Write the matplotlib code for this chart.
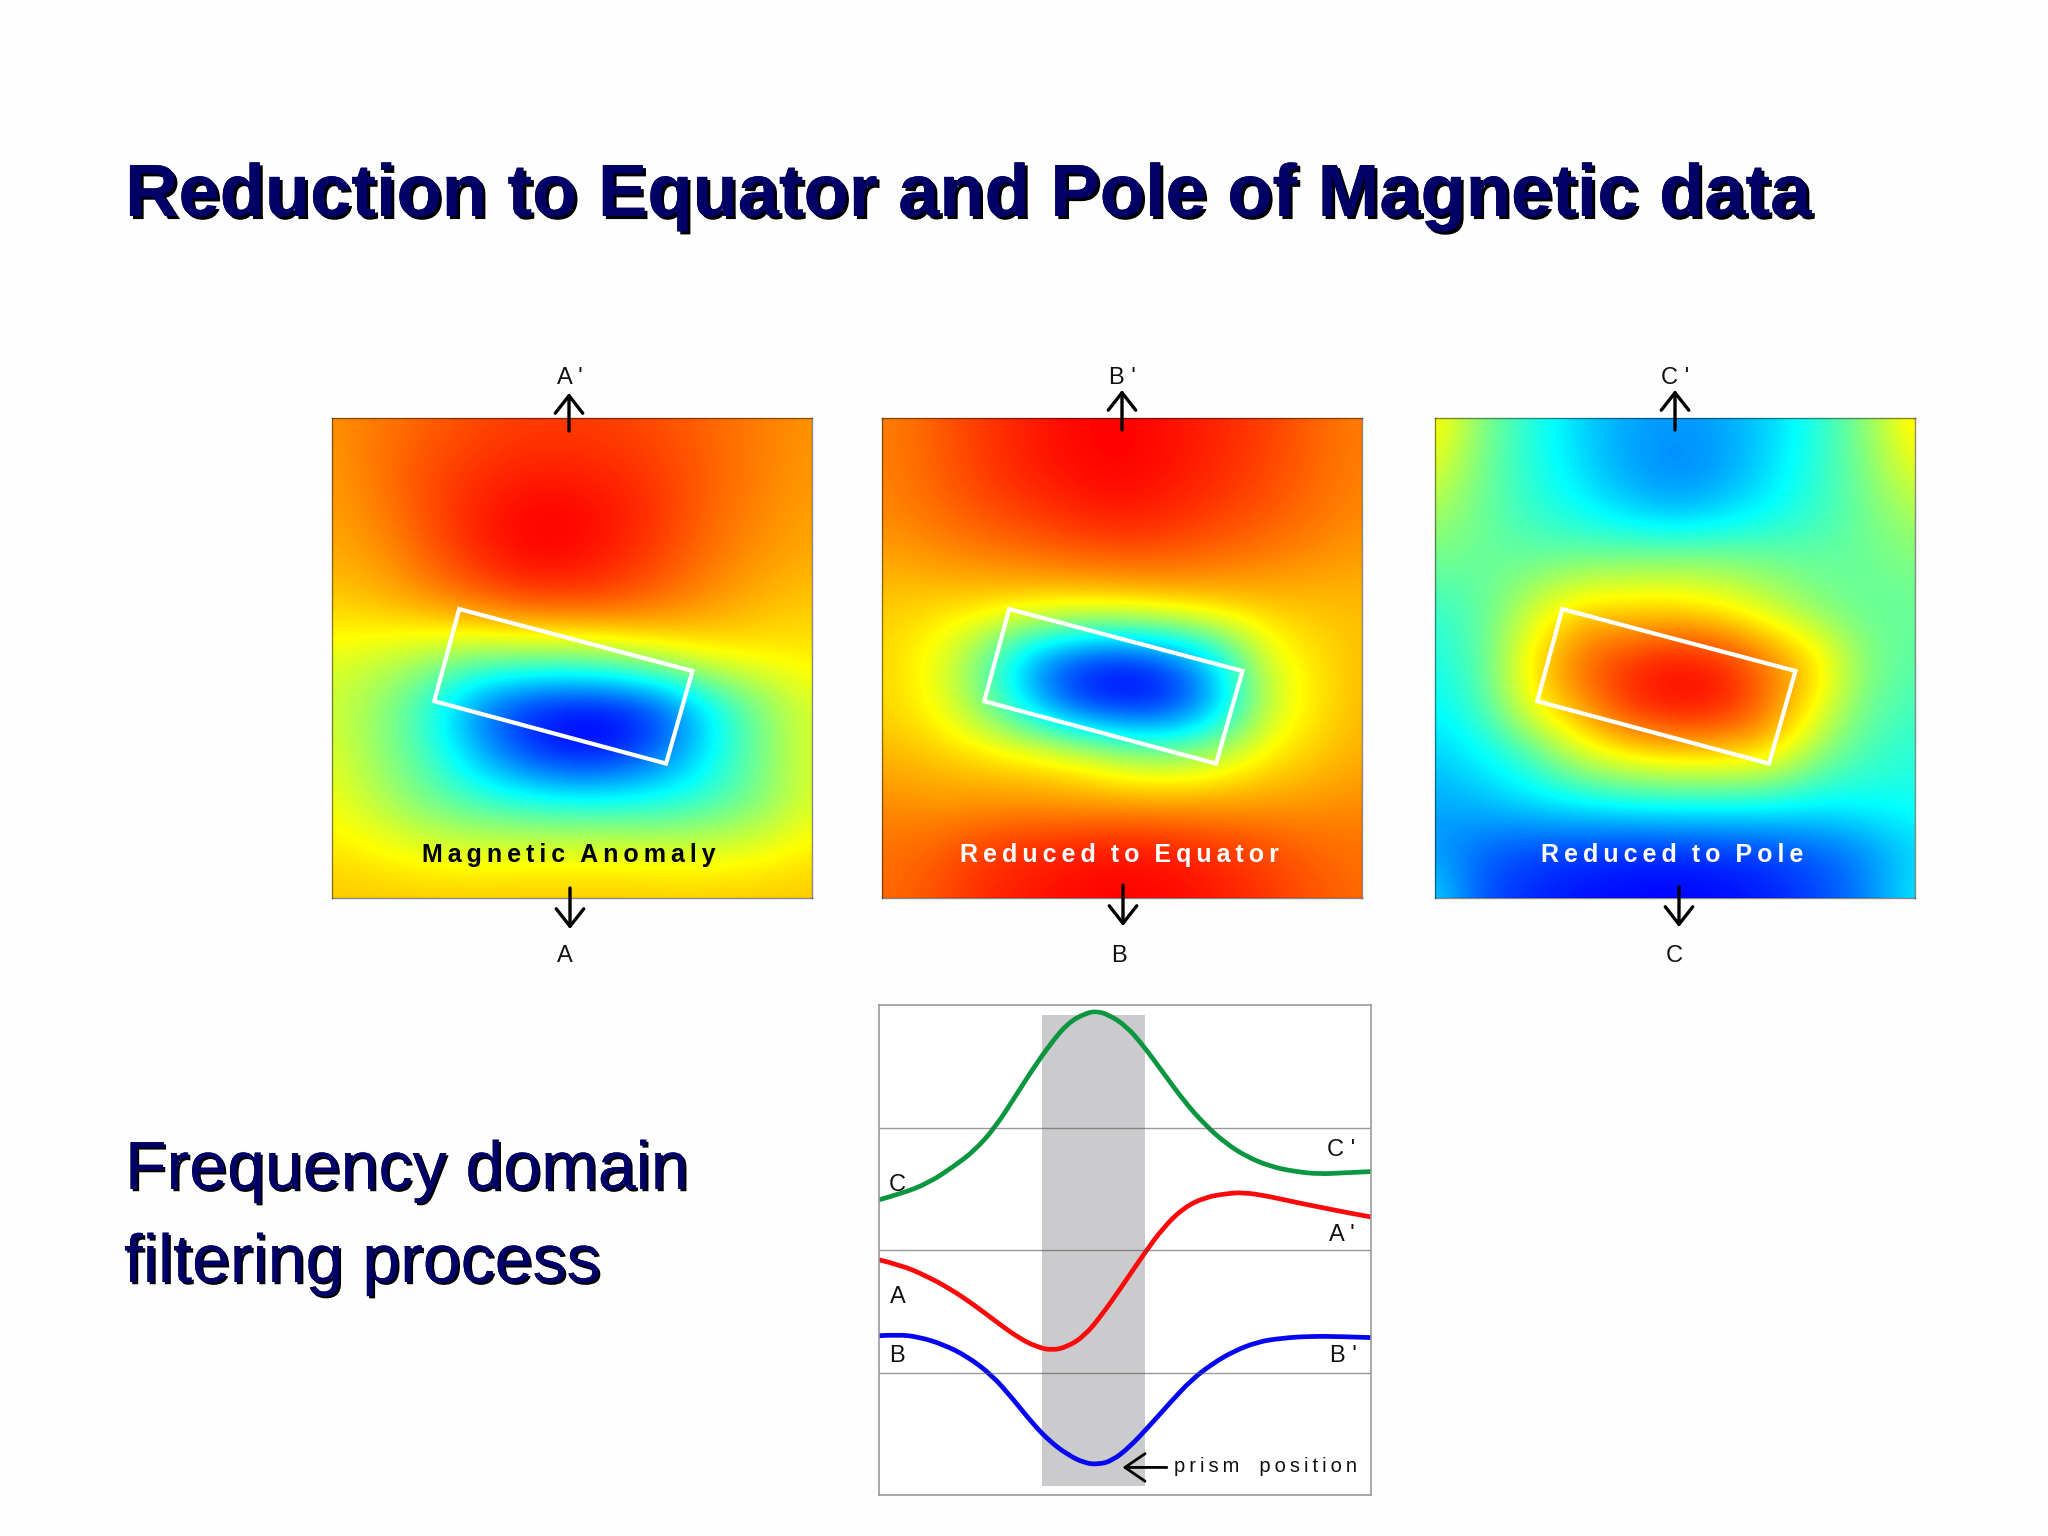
import numpy as np
import matplotlib
matplotlib.use('Agg')
import matplotlib.pyplot as plt
import matplotlib.patheffects as pe
from matplotlib.colors import LinearSegmentedColormap
from matplotlib.patches import Polygon, PathPatch
from matplotlib.path import Path

# field values, 0 = blue, 1 = red
anomaly = [
    [.81, .84, .87, .90, .92, .92, .91, .89, .86, .83, .81],
    [.80, .85, .90, .93, .95, .95, .94, .91, .87, .83, .80],
    [.79, .83, .90, .96, 1.0, 1.0, .97, .92, .86, .82, .79],
    [.77, .80, .87, .94, .99, .99, .95, .90, .84, .80, .77],
    [.72, .74, .78, .83, .87, .88, .87, .83, .79, .75, .73],
    [.63, .60, .55, .50, .50, .50, .55, .62, .67, .68, .69],
    [.60, .52, .38, .16, .04, 0, 0, .10, .33, .50, .62],
    [.63, .52, .42, .24, .08, 0, .03, .16, .34, .50, .63],
    [.65, .57, .48, .42, .38, .36, .36, .37, .42, .50, .62],
    [.70, .67, .64, .63, .64, .64, .64, .63, .63, .65, .69],
    [.74, .74, .74, .74, .74, .74, .74, .74, .74, .74, .74],
]
equator = [
    [.83, .87, .92, .96, .99, 1.0, .98, .95, .92, .87, .83],
    [.83, .87, .92, .96, .99, 1.0, .98, .95, .91, .87, .83],
    [.82, .85, .89, .92, .95, .97, .95, .92, .89, .85, .82],
    [.78, .80, .82, .84, .86, .87, .87, .85, .83, .81, .79],
    [.73, .71, .70, .68, .67, .68, .70, .72, .73, .74, .75],
    [.72, .66, .50, .22, .07, .02, .10, .30, .62, .70, .75],
    [.72, .67, .52, .28, .06, 0, .02, .22, .58, .69, .76],
    [.76, .74, .71, .69, .65, .56, .52, .58, .68, .73, .77],
    [.82, .80, .80, .80, .79, .79, .79, .79, .79, .80, .82],
    [.85, .87, .92, .95, .97, .98, .97, .94, .91, .87, .85],
    [.86, .89, .94, .97, .99, 1.0, .99, .97, .93, .89, .86],
]
pole = [
    [.70, .50, .38, .28, .22, .20, .22, .28, .38, .52, .72],
    [.64, .48, .38, .29, .21, .17, .20, .29, .39, .50, .65],
    [.55, .47, .40, .35, .28, .24, .28, .34, .40, .48, .56],
    [.48, .47, .47, .49, .52, .53, .52, .49, .47, .47, .50],
    [.40, .45, .60, .73, .72, .72, .68, .60, .50, .46, .47],
    [.36, .45, .70, .86, .93, .98, .95, .84, .72, .50, .45],
    [.33, .42, .68, .80, .95, 1.0, .98, .85, .66, .47, .42],
    [.27, .33, .42, .62, .70, .74, .74, .72, .52, .42, .38],
    [.22, .25, .30, .33, .36, .37, .37, .36, .34, .35, .36],
    [.20, .13, .09, .07, .05, .05, .06, .08, .12, .18, .28],
    [.30, .10, .05, .02, .005, 0, .01, .04, .09, .17, .32],
]
THIN = '\u2009'
map_titles = ['Magnetic', 'Anomaly'], ['Reduced', 'to', 'Equator'], ['Reduced', 'to', 'Pole']
title_colors = ['black', 'white', 'white']

# prism outline as fractions of a map, from the top left
prism_x = [.265, .751, .696, .213]
prism_y = [.398, .527, .720, .590]

# profiles
green_x = [0, 4.6, 10.2, 15.1, 19.4, 23.6, 27.8, 31.3, 34.8, 38.3, 41.8, 44.2, 46.7, 50.2, 53.7, 57.9, 62.1, 66.3, 70.5, 74.8, 79.7, 84.6, 89.5, 94.4, 100]
green_y = [2.41, 2.46, 2.55, 2.68, 2.81, 3.00, 3.26, 3.48, 3.68, 3.85, 3.93, 3.95, 3.92, 3.83, 3.67, 3.44, 3.21, 3.02, 2.87, 2.76, 2.68, 2.64, 2.62, 2.63, 2.64]
red_x = [0, 4.6, 9.5, 14.4, 19.4, 24.3, 28.5, 32.0, 35.1, 38.3, 41.8, 45.3, 49.5, 53.7, 57.9, 62.1, 66.3, 70.5, 74.1, 79.0, 84.6, 90.2, 95.8, 100]
red_y = [1.92, 1.875, 1.79, 1.685, 1.55, 1.40, 1.28, 1.21, 1.18, 1.21, 1.30, 1.47, 1.71, 1.96, 2.19, 2.35, 2.43, 2.46, 2.47, 2.44, 2.39, 2.345, 2.30, 2.27]
blue_x = [0, 3.9, 8.1, 13.0, 18.0, 22.9, 27.1, 31.3, 34.8, 38.3, 41.8, 44.6, 47.4, 50.9, 55.1, 59.3, 63.5, 67.7, 71.9, 76.9, 81.8, 87.4, 94.4, 100]
blue_y = [1.30, 1.31, 1.29, 1.23, 1.13, .98, .79, .58, .435, .33, .26, .25, .28, .39, .57, .76, .94, 1.07, 1.17, 1.25, 1.28, 1.296, 1.293, 1.285]

W, H = 2048, 1536
ARIAL = 'Liberation Sans'

fig = plt.figure(figsize=(W / 100, H / 100), dpi=100, facecolor='#fefefe')


def axes_px(x0, y0, x1, y1, **kw):
    return fig.add_axes([x0 / W, 1 - y1 / H, (x1 - x0) / W, (y1 - y0) / H], **kw)


def spaced(words, gap=3):
    # letterspaced label, the slide font is narrow with wide tracking
    return (THIN * gap).join(THIN.join(w) for w in words)


def draw_curve(ax, xs, ys, color):
    # quadratic segments with the read points as control points
    pts = list(zip(xs, ys))
    verts = [pts[0]]
    codes = [Path.MOVETO]
    for i in range(1, len(pts) - 1):
        mid = ((pts[i][0] + pts[i + 1][0]) / 2, (pts[i][1] + pts[i + 1][1]) / 2)
        if i == len(pts) - 2:
            mid = pts[-1]
        verts += [pts[i], mid]
        codes += [Path.CURVE3, Path.CURVE3]
    ax.add_patch(PathPatch(Path(verts, codes), fill=False, ec=color, lw=3.4, capstyle='butt'))


cmap = LinearSegmentedColormap.from_list('field', ['#0000ff', '#00ffff', '#ffff00', '#ff0000'])
boxes = [(332, 812), (882, 1362), (1435, 1915)]

for grid, (x0, x1), words, c in zip([anomaly, equator, pole], boxes, map_titles, title_colors):
    ax = axes_px(x0, 418, x1, 898)
    ax.imshow(grid, cmap=cmap, vmin=0, vmax=1, interpolation='bicubic', interpolation_stage='data',
              extent=(-.5, 10.5, 10.5, -.5), aspect='auto')
    ax.set_xlim(0, 10)
    ax.set_ylim(10, 0)
    ax.set_xticks([])
    ax.set_yticks([])
    for s in ax.spines.values():
        s.set_color((0, 0, 0, .45))
        s.set_linewidth(1)
    ax.add_patch(Polygon([(10 * a, 10 * b) for a, b in zip(prism_x, prism_y)], closed=True, fill=False,
                         ec='white', lw=3))
    ax.text(.494, .09, spaced(words), transform=ax.transAxes, ha='center', va='center', color=c,
            family=ARIAL, weight='bold', fontsize=18)

# profile panel
lx = axes_px(879, 1005, 1371, 1495)
lx.set_xlim(0, 100)
lx.set_ylim(0, 4)
lx.set_xticks([])
lx.set_yticks([])
for s in lx.spines.values():
    s.set_color('#9a9a9c')
    s.set_linewidth(1.2)
lx.axvspan(33.2, 54.0, ymin=.07 / 4, ymax=3.92 / 4, color='#cbcacc', lw=0)
for gy in [1, 2, 3]:
    lx.axhline(gy, color='#555555', alpha=.6, lw=1)
draw_curve(lx, green_x, green_y, '#0c9640')
draw_curve(lx, red_x, red_y, '#fa0a0a')
draw_curve(lx, blue_x, blue_y, '#0505f0')

lab = dict(family=ARIAL, fontsize=17, ha='center', va='center', color='#111111')
lx.text(3.8, 2.53, 'C', **lab)
lx.text(94.0, 2.82, "C '", **lab)
lx.text(94.0, 2.125, "A '", **lab)
lx.text(3.8, 1.62, 'A', **lab)
lx.text(3.6, 1.135, 'B', **lab)
lx.text(94.4, 1.135, "B '", **lab)
lx.text(78.5, .23, spaced(['prism', 'position'], gap=5), family=ARIAL, fontsize=14.5, ha='center', va='center', color='#111111')
lx.annotate('', xy=(49.5, .225), xytext=(58.5, .225),
            arrowprops=dict(arrowstyle='->,head_length=.8,head_width=.55', color='black', lw=2,
                            mutation_scale=18, shrinkA=0, shrinkB=0))

# overlay in pixels for the slide text and arrows
top = axes_px(0, 0, W, H, zorder=5)
top.set_xlim(0, W)
top.set_ylim(H, 0)
top.axis('off')
top.patch.set_alpha(0)

shadow = [pe.withSimplePatchShadow(offset=(2.2, -2.2), shadow_rgbFace='black', alpha=1), pe.Normal()]
top.text(125, 216, 'Reduction to Equator and Pole of Magnetic data', family=ARIAL, weight='bold',
         fontsize=53.3, color='#000066', va='baseline', path_effects=shadow)
small_shadow = [pe.withSimplePatchShadow(offset=(1.6, -1.6), shadow_rgbFace='black', alpha=1), pe.Normal()]
top.text(125, 1189, 'Frequency domain', family=ARIAL, fontsize=49, color='#000066', va='baseline',
         path_effects=small_shadow)
top.text(124, 1282, 'filtering process', family=ARIAL, fontsize=49, color='#000066', va='baseline',
         path_effects=small_shadow)

arrow = dict(arrowstyle='->,head_length=.7,head_width=.55', color='black', lw=2.4, mutation_scale=18,
             shrinkA=0, shrinkB=0)
for x, start, end in [(569, 431, 393), (570, 888, 929), (1122, 430, 390), (1123, 885, 926),
                      (1675, 430, 390), (1679, 887, 927)]:
    top.annotate('', xy=(x, end), xytext=(x, start), arrowprops=arrow)

for x, y, s in [(570, 378, "A '"), (565, 956, 'A'), (1122, 378, "B '"), (1119, 956, 'B'),
                (1675, 378, "C '"), (1674, 956, 'C')]:
    top.text(x, y, s, **lab)

fig.savefig('out.png', dpi=100, facecolor=fig.get_facecolor())
